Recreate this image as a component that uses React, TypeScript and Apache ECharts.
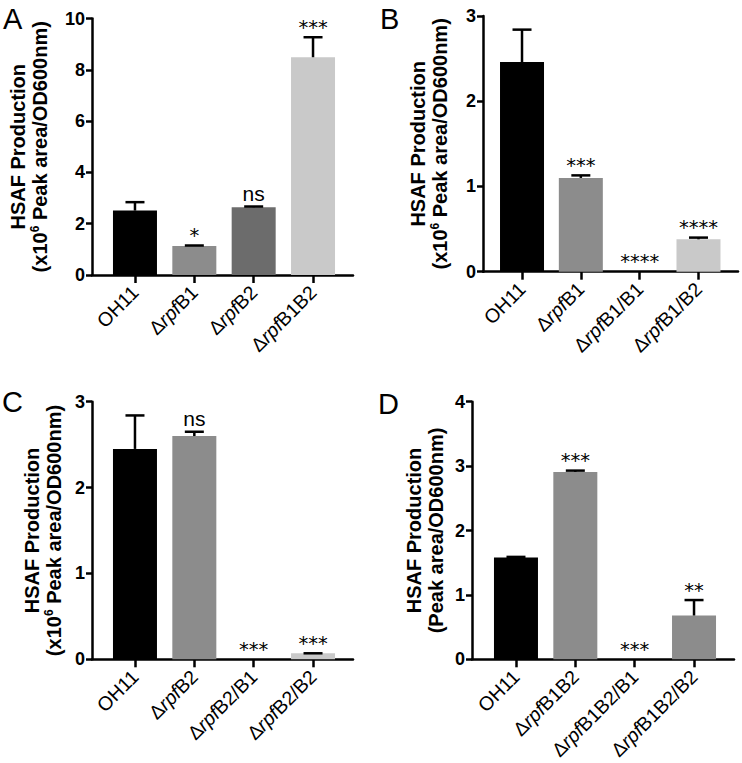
import React, { useEffect, useRef } from "react";
import * as echarts from "echarts";

// ---------- data ----------
const catsA = ["OH11", "ΔrpfB1", "ΔrpfB2", "ΔrpfB1B2"];
const meanA = [2.51, 1.13, 2.64, 8.49];
const errA = [0.33, 0.02, 0.03, 0.78];
const sigA = ["", "*", "ns", "***"];

const catsB = ["OH11", "ΔrpfB1", "ΔrpfB1/B1", "ΔrpfB1/B2"];
const meanB = [2.46, 1.1, 0, 0.38];
const errB = [0.38, 0.03, 0, 0.02];
const sigB = ["", "***", "****", "****"];

const catsC = ["OH11", "ΔrpfB2", "ΔrpfB2/B1", "ΔrpfB2/B2"];
const meanC = [2.45, 2.6, 0, 0.07];
const errC = [0.39, 0.05, 0, 0];
const sigC = ["", "ns", "***", "***"];

const catsD = ["OH11", "ΔrpfB1B2", "ΔrpfB1B2/B1", "ΔrpfB1B2/B2"];
const meanD = [1.58, 2.91, 0, 0.68];
const errD = [0.01, 0.02, 0, 0.24];
const sigD = ["", "***", "***", "**"];

const yTicksA = [0, 2, 4, 6, 8, 10];
const yTicksB = [0, 1, 2, 3];
const yTicksC = [0, 1, 2, 3];
const yTicksD = [0, 1, 2, 3, 4];

const titleX6 = "{t|HSAF Production}\n{t|(x10}{s|6}{t| Peak area/OD600nm)}";
const titlePlain = "{t|HSAF Production}\n{t|(Peak area/OD600nm)}";

// ---------- styles ----------
const FONT = "'Liberation Sans', Arial, Helvetica, sans-serif";
const STAR_FONT = "'DejaVu Sans', sans-serif";
const colorsA = ["#000000", "#8c8c8c", "#6c6c6c", "#c9c9c9"];
const colorsB = ["#000000", "#8c8c8c", "#8c8c8c", "#c9c9c9"];
const colorsC = ["#000000", "#8c8c8c", "#8c8c8c", "#c9c9c9"];
const colorsD = ["#000000", "#8c8c8c", "#8c8c8c", "#8c8c8c"];

type Panel = {
  letter: string;
  cats: string[];
  mean: number[];
  err: number[];
  sig: string[];
  ticks: number[];
  colors: string[];
  title: string;
  nameGap: number;
  outer: { left: number; top: number; width: number; height: number };
  inner: { left: number; width: number };
  letterPos: [number, number];
};

const panels: Panel[] = [
  {
    letter: "A", cats: catsA, mean: meanA, err: errA, sig: sigA, ticks: yTicksA,
    colors: colorsA, title: titleX6, nameGap: 41,
    outer: { left: 92, top: 18.5, width: 261, height: 256.5 },
    inner: { left: 105.3, width: 237.4 }, letterPos: [3, 4],
  },
  {
    letter: "B", cats: catsB, mean: meanB, err: errB, sig: sigB, ticks: yTicksB,
    colors: colorsB, title: titleX6, nameGap: 32,
    outer: { left: 483, top: 16, width: 255, height: 255.7 },
    inner: { left: 492.6, width: 235.3 }, letterPos: [380, 4],
  },
  {
    letter: "C", cats: catsC, mean: meanC, err: errC, sig: sigC, ticks: yTicksC,
    colors: colorsC, title: titleX6, nameGap: 27,
    outer: { left: 92, top: 401.7, width: 261, height: 257.6 },
    inner: { left: 105.3, width: 237.4 }, letterPos: [2, 387],
  },
  {
    letter: "D", cats: catsD, mean: meanD, err: errD, sig: sigD, ticks: yTicksD,
    colors: colorsD, title: titlePlain, nameGap: 25,
    outer: { left: 472, top: 401.7, width: 262, height: 257.6 },
    inner: { left: 486.3, width: 237.4 }, letterPos: [378, 389],
  },
];

function fmtCat(v: string): string {
  const k = v.indexOf("rpf");
  if (k < 0) return "{n|" + v + "}";
  return "{n|" + v.slice(0, k) + "}{i|rpf}{n|" + v.slice(k + 3) + "}";
}

function buildOption() {
  const grid: any[] = [];
  const xAxis: any[] = [];
  const yAxis: any[] = [];
  const series: any[] = [];
  const graphic: any[] = [];

  panels.forEach((p, i) => {
    const ymax = p.ticks[p.ticks.length - 1];
    const interval = p.ticks[1] - p.ticks[0];
    grid.push({ left: p.outer.left, top: p.outer.top, width: p.outer.width, height: p.outer.height, containLabel: false });
    grid.push({ left: p.inner.left, top: p.outer.top, width: p.inner.width, height: p.outer.height, containLabel: false });

    xAxis.push({
      type: "value", gridIndex: 2 * i, min: 0, max: 1,
      axisLine: { show: true, onZero: false, lineStyle: { color: "#000", width: 2.5 } },
      axisTick: { show: false }, axisLabel: { show: false }, splitLine: { show: false },
    });
    xAxis.push({
      type: "category", gridIndex: 2 * i + 1, data: p.cats,
      axisLine: { show: false },
      axisTick: { show: true, alignWithLabel: true, length: 8, lineStyle: { color: "#000", width: 2.5 } },
      axisLabel: {
        interval: 0, rotate: 45, margin: 14, color: "#000",
        formatter: (v: string) => fmtCat(v),
        rich: {
          n: { fontSize: 19.5, fontFamily: FONT, color: "#000" },
          i: { fontSize: 19.5, fontFamily: FONT, fontStyle: "italic", color: "#000" },
        },
      },
      splitLine: { show: false },
    });

    yAxis.push({
      type: "value", gridIndex: 2 * i, min: 0, max: ymax, interval,
      axisLine: { show: true, onZero: false, lineStyle: { color: "#000", width: 2.5 } },
      axisTick: { show: true, length: 6, lineStyle: { color: "#000", width: 2.5 } },
      axisLabel: { color: "#000", fontSize: 18, fontWeight: "bold", fontFamily: FONT, margin: 7 },
      splitLine: { show: false },
      name: p.title, nameLocation: "middle", nameRotate: 90, nameGap: p.nameGap,
      nameTextStyle: {
        rich: {
          t: { fontSize: 20, fontWeight: "bold", fontFamily: FONT, color: "#000", lineHeight: 22 },
          s: { fontSize: 12, fontWeight: "bold", fontFamily: FONT, color: "#000", lineHeight: 12, verticalAlign: "top" },
        },
      },
    });
    yAxis.push({ type: "value", gridIndex: 2 * i + 1, min: 0, max: ymax, show: false });

    series.push({
      type: "bar", xAxisIndex: 2 * i + 1, yAxisIndex: 2 * i + 1, barWidth: 44,
      data: p.mean.map((v, j) => ({ value: v, itemStyle: { color: p.colors[j] } })),
      z: 2,
    });

    const sig = p.sig;
    series.push({
      type: "custom", xAxisIndex: 2 * i + 1, yAxisIndex: 2 * i + 1, z: 5, clip: false,
      data: p.mean.map((v, j) => [j, v, p.err[j]]),
      encode: { x: 0, y: 1 },
      renderItem: (params: any, api: any) => {
        const x = api.value(0);
        const v = api.value(1);
        const e = api.value(2);
        const base = api.coord([x, v]);
        const top = api.coord([x, v + e]);
        const children: any[] = [];
        if (v > 0) {
          children.push({
            type: "line",
            shape: { x1: top[0], y1: base[1], x2: top[0], y2: top[1] },
            style: { stroke: "#000", lineWidth: 2.5 },
          });
          children.push({
            type: "line",
            shape: { x1: top[0] - 9.5, y1: top[1], x2: top[0] + 9.5, y2: top[1] },
            style: { stroke: "#000", lineWidth: 2.5 },
          });
        }
        const s = sig[params.dataIndex];
        if (s) {
          const isStar = s.indexOf("*") >= 0;
          children.push({
            type: "text",
            style: {
              text: s, x: top[0], y: isStar ? top[1] : top[1] - 3,
              align: "center", verticalAlign: "bottom",
              fontSize: isStar ? 19.5 : 21, fontFamily: isStar ? STAR_FONT : FONT, fill: "#000",
            },
          });
        }
        return { type: "group", children };
      },
    });

    graphic.push({
      type: "text", left: p.letterPos[0], top: p.letterPos[1],
      style: { text: p.letter, fontSize: 29, fontFamily: FONT, fill: "#000" },
    });
  });

  return { animation: false, backgroundColor: "#fff", grid, xAxis, yAxis, series, graphic };
}

export default function App() {
  const ref = useRef<HTMLDivElement>(null);
  useEffect(() => {
    if (!ref.current) return;
    const chart = echarts.init(ref.current, undefined, { renderer: "svg" });
    chart.setOption(buildOption() as any);
    return () => chart.dispose();
  }, []);
  return (
    <div
      ref={ref}
      style={{ position: "absolute", left: 0, top: 0, width: 742, height: 763, background: "#fff" }}
    />
  );
}
